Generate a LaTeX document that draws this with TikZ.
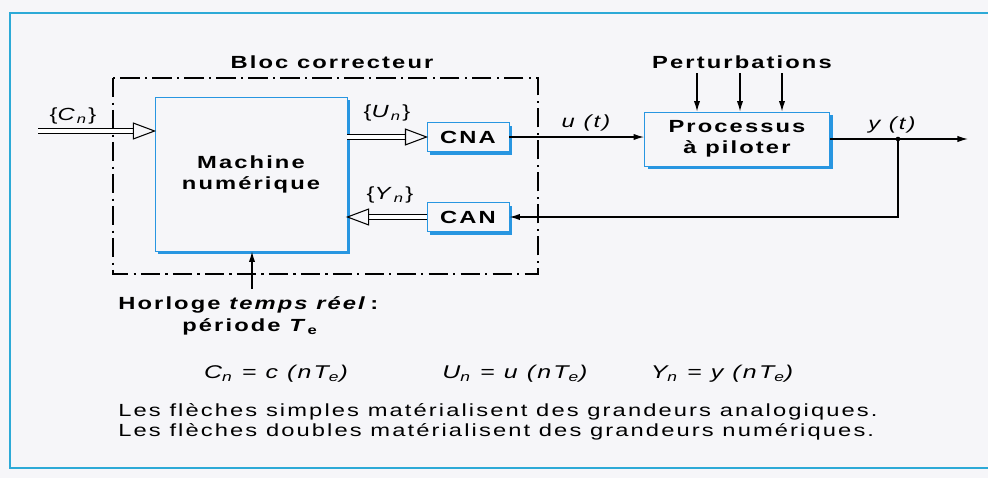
\documentclass[tikz,border=0pt]{standalone}
\usepackage{fontspec}
\setmainfont{Liberation Sans}[FakeStretch=1.35, LetterSpace=12]
\usetikzlibrary{arrows.meta, positioning, shadows}
\definecolor{boxblue}{RGB}{40,150,225}
\definecolor{framecyan}{RGB}{45,170,215}
\definecolor{paper}{RGB}{246,246,249}

\tikzset{
  numtip/.pic={
    \draw[line width=0.6pt, fill=paper, line join=miter]
      (-12pt,-4.5pt) -- (0,0) -- (-12pt,4.5pt) -- cycle;
  }
}

\begin{document}
\begin{tikzpicture}[
    x=0.2mm, y=-0.2mm,
    font=\fontsize{10}{12}\selectfont,
    bloc/.style={
      draw=boxblue,
      line width=0.5pt,
      fill=paper,
      drop shadow={shadow xshift=0.6mm, shadow yshift=-0.6mm,
                   fill=boxblue, opacity=1},
      align=center,
      font=\fontsize{10}{12}\selectfont\bfseries
    },
    ana/.style={-{Latex[length=6pt,width=3.6pt]}, line width=0.7pt},
    numline/.style={
      double,
      double distance=2pt,
      line width=0.6pt,
      shorten >=11.5pt
    },
    title/.style={font=\fontsize{10}{12}\selectfont\bfseries},
    eqn/.style={font=\fontsize{10.5}{12}\selectfont\itshape},
    txt/.style={anchor=west, inner sep=0pt},
    dashdot/.style={line width=0.8pt,
      dash pattern=on 11pt off 3pt on 1.2pt off 3pt}
  ]
  \useasboundingbox[fill=paper] (0,0) rectangle (988,478);
  \draw[framecyan, line width=1.6pt] (1000,13) -| (10,468) -- (1000,468);

  % ========== Bloc correcteur ==========
  \node[title] (bc) at (332,62) {Bloc correcteur};
  \draw[dashdot] (113,78) rectangle (538,274);

  \node[bloc, minimum width=38.4mm, minimum height=30.8mm]
    (mach) at (251,174) {Machine\\num\'erique};
  \node[bloc, minimum width=16.4mm, minimum height=5.8mm]
    (cna) at (468,137) {CNA};
  \node[bloc, minimum width=16.4mm, minimum height=5.8mm]
    (can) at (468,217) {CAN};

  % double arrows
  \coordinate (cin) at (38,131);
  \draw[numline] (cin) -- (cin -| mach.west);
  \pic at (cin -| mach.west) {numtip};
  \draw[numline] (mach.east |- cna.west) -- (cna.west);
  \pic at (cna.west) {numtip};
  \draw[numline] (can.west) -- (can.west -| mach.east);
  \pic[rotate=180] at (can.west -| mach.east) {numtip};

  \node (lc) at (73,116) {\{\textit{C}\textsubscript{\textit{n}}\}};
  \node (lu) at (387,113) {\{\textit{U}\textsubscript{\textit{n}}\}};
  \node (ly) at (390,195) {\{\textit{Y}\textsubscript{\textit{n}}\}};

  % ========== Processus ==========
  \node[title] (pert) at (742,62) {Perturbations};
  \node[bloc, minimum width=37mm, minimum height=10.8mm]
    (proc) at (737,139) {Processus\\\`a piloter};

  \foreach \px [count=\i] in {697,740,782} {
    \coordinate (p\i) at (\px,73);
    \draw[ana] (p\i) -- (p\i |- proc.north);
  }

  \draw[ana] (cna.east) -- (cna.east -| proc.west);
  \node (lut) at (587,123) {\textit{u (t)}};

  \coordinate (yout) at (968,139);
  \coordinate (br) at (898,139);
  \draw[ana] (proc.east) -- (yout);
  \draw[ana] (br) |- (can.east);
  \fill (br) circle (1.3pt);
  \node (lyt) at (893,125) {\textit{y (t)}};

  % ========== Horloge ==========
  \coordinate (clk) at (252,289);
  \draw[ana] (clk) -- (clk |- mach.south);
  \node[txt, font=\fontsize{10}{12}\selectfont\bfseries]
    (hor) at (118,305) {Horloge \textit{temps r\'eel}\,:};
  \node[txt, font=\fontsize{10}{12}\selectfont\bfseries]
    (per) at (182,327) {p\'eriode \textit{T}\textsubscript{e}};

  % ========== Equations and legend ==========
  \node[eqn] (ec) at (276,374) {C\textsubscript{n} = c (nT\textsubscript{e})};
  \node[eqn] (eu) at (515,374) {U\textsubscript{n} = u (nT\textsubscript{e})};
  \node[eqn] (ey) at (722,374) {Y\textsubscript{n} = y (nT\textsubscript{e})};

  \node[txt] (leg1) at (118,412)
    {Les fl\`eches simples mat\'erialisent des grandeurs analogiques.};
  \node[txt] (leg2) at (118,432)
    {Les fl\`eches doubles mat\'erialisent des grandeurs num\'eriques.};
\end{tikzpicture}
\end{document}
